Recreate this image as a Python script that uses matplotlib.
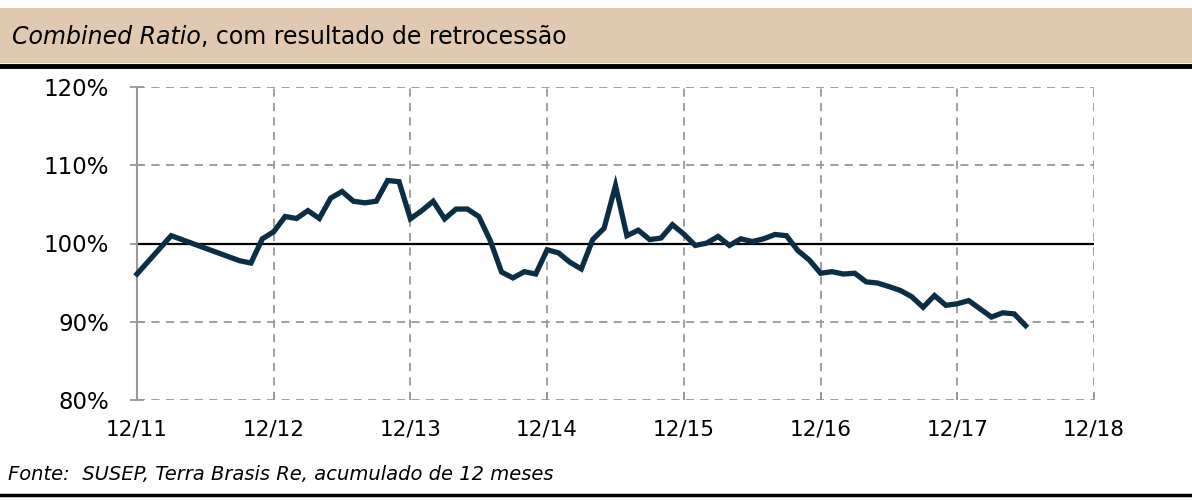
import matplotlib
matplotlib.use("Agg")
import matplotlib.pyplot as plt
from matplotlib.lines import Line2D
from matplotlib.patches import Rectangle

# months elapsed since Dec/2011
months = [0, 3, 9, 10, 11, 12, 13, 14, 15, 16, 17, 18, 19, 20, 21, 22, 23, 24,
          25, 26, 27, 28, 29, 30, 31, 32, 33, 34, 35, 36, 37, 38, 39, 40, 41, 42,
          43, 44, 45, 46, 47, 48, 49, 50, 51, 52, 53, 54, 55, 56, 57, 58, 59, 60,
          61, 62, 63, 64, 65, 66, 67, 68, 69, 70, 71, 72, 73, 74, 75, 76, 77, 78]
combined_ratio = [96.1, 101.0, 97.8, 97.5, 100.6, 101.5, 103.45, 103.2, 104.2, 103.2,
                  105.8, 106.65, 105.4, 105.2, 105.4, 108.05, 107.9, 103.15,
                  104.2, 105.4, 103.15, 104.4, 104.4, 103.45, 100.4, 96.35, 95.6, 96.4,
                  96.1, 99.2, 98.8, 97.6, 96.75, 100.5, 101.95, 107.4,
                  101.0, 101.7, 100.5, 100.7, 102.4, 101.2, 99.75, 100.05, 100.9, 99.75,
                  100.6, 100.25, 100.6, 101.15, 101.0, 99.1, 97.9, 96.2,
                  96.4, 96.1, 96.2, 95.1, 94.95, 94.5, 94.0, 93.2, 91.85, 93.35, 92.1,
                  92.3, 92.7, 91.65, 90.6, 91.15, 91.0, 89.5]
x_tick_pos = [0, 12, 24, 36, 48, 60, 72, 84]
x_tick_labels = ["12/11", "12/12", "12/13", "12/14", "12/15", "12/16", "12/17", "12/18"]
y_ticks = [80, 90, 100, 110, 120]
y_tick_labels = ["80%", "90%", "100%", "110%", "120%"]

title_italic = "Combined Ratio"
title_rest = ", com resultado de retrocessão"
source = "Fonte:  SUSEP, Terra Brasis Re, acumulado de 12 meses"

W, H = 1192, 500
fig = plt.figure(figsize=(W / 100, H / 100), dpi=100)
plt.rcParams['font.family'] = ['DejaVu Sans']

# header band
fig.patches.append(Rectangle((0, 1 - 63 / H), 1, 55 / H, transform=fig.transFigure,
                             facecolor="#E1C8B0", edgecolor="none", zorder=0))
fig.add_artist(Line2D([0, 1], [1 - 65.5 / H, 1 - 65.5 / H], transform=fig.transFigure,
                      color="black", lw=3.5))
t1 = fig.text(12 / W, 1 - 37 / H, title_italic, fontsize=17, style="italic",
              va="center", ha="left", color="black")
fig.canvas.draw()
bb = t1.get_window_extent()
fig.text(bb.x1 / W, 1 - 37 / H, title_rest, fontsize=17, va="center", ha="left",
         color="black")

# footer
fig.text(8 / W, 1 - 480 / H, source, fontsize=14, style="italic", va="baseline",
         ha="left", color="black")
fig.add_artist(Line2D([0, 1], [1 - 494.5 / H, 1 - 494.5 / H], transform=fig.transFigure,
                      color="black", lw=2.5))

ax = fig.add_axes([137 / W, 1 - 400 / H, (1094 - 137) / W, (400 - 87) / H])
ax.set_xlim(0, 84)
ax.set_ylim(80, 120)

grid_kw = dict(color="#999999", lw=1.3, ls=(0, (4.5, 3.5)), zorder=1)
for yv in y_ticks:
    if yv != 100:
        ax.axhline(yv, **grid_kw)
for xv in x_tick_pos[1:]:
    ax.axvline(xv, **grid_kw)
ax.axhline(100, color="black", lw=1.6, zorder=2)

ax.plot(months, combined_ratio, color="#0B2E44", lw=3.8, solid_joinstyle="miter",
        zorder=3, clip_on=False)

for s in ["top", "right", "bottom"]:
    ax.spines[s].set_visible(False)
ax.spines["left"].set_color("#999999")
ax.spines["left"].set_linewidth(1.5)

ax.set_yticks(y_ticks)
ax.set_yticklabels(y_tick_labels)
ax.set_xticks(x_tick_pos)
ax.set_xticklabels(x_tick_labels)
ax.tick_params(axis="y", direction="inout", length=10, width=1.3, color="#999999",
               labelsize=16.5, pad=15, labelcolor="black")
ax.tick_params(axis="x", direction="in", length=6, width=1.3, color="#999999",
               labelsize=15.5, pad=14, labelcolor="black")

fig.savefig("out.png", dpi=100)
